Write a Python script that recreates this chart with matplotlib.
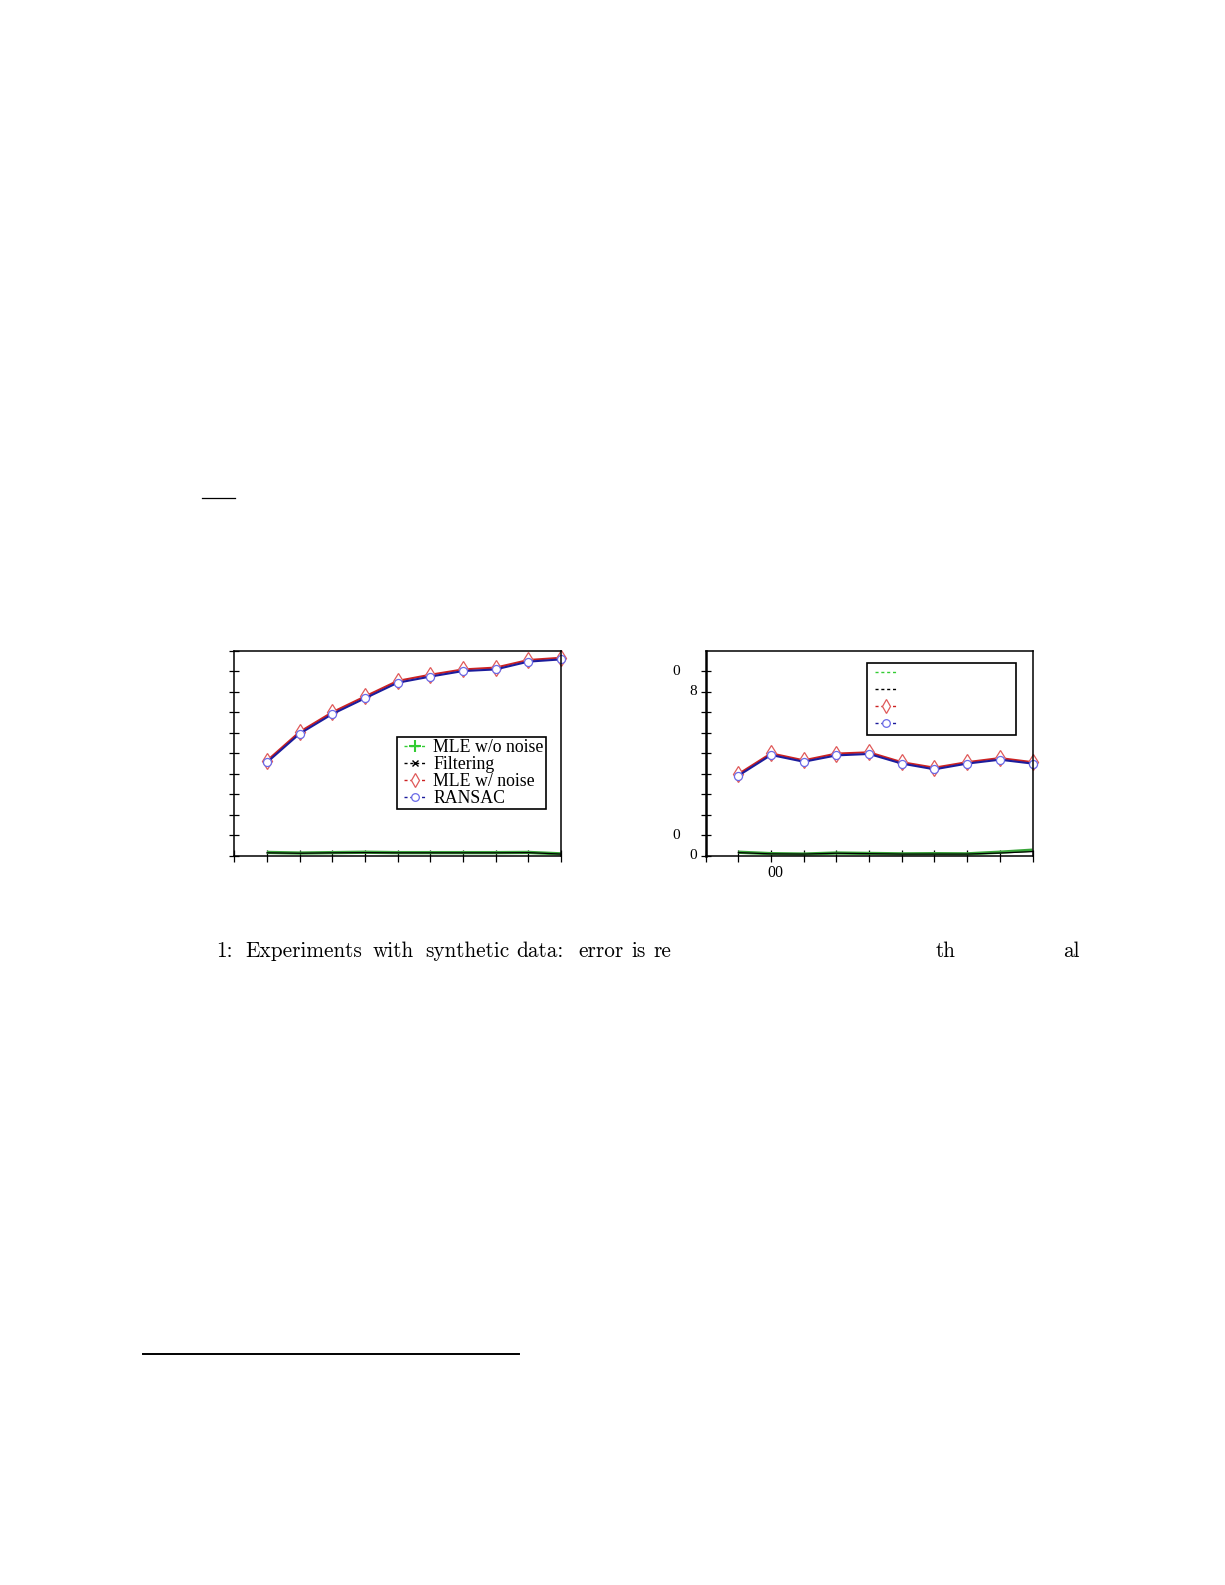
import matplotlib
matplotlib.use("Agg")
import matplotlib.pyplot as plt
from matplotlib.lines import Line2D
from matplotlib.legend_handler import HandlerLine2D

W, H = 1225, 1585

# ---------------- data ----------------
x_vals = [1, 2, 3, 4, 5, 6, 7, 8, 9, 10]
labels = ["MLE w/o noise", "Filtering", "MLE w/ noise", "RANSAC"]

left_mle_wo = [0.16, 0.13, 0.15, 0.17, 0.15, 0.15, 0.15, 0.15, 0.16, 0.09]
left_filter = [0.14, 0.12, 0.14, 0.15, 0.14, 0.14, 0.14, 0.14, 0.15, 0.08]
left_mle_w = [4.64, 6.05, 7.01, 7.78, 8.54, 8.84, 9.10, 9.19, 9.56, 9.67]
left_ransac = [4.56, 5.96, 6.92, 7.69, 8.45, 8.75, 9.02, 9.10, 9.48, 9.59]

right_mle_wo = [0.17, 0.10, 0.08, 0.13, 0.11, 0.09, 0.10, 0.09, 0.17, 0.27]
right_filter = [0.15, 0.09, 0.08, 0.12, 0.10, 0.08, 0.08, 0.08, 0.13, 0.20]
right_mle_w = [3.99, 5.00, 4.66, 4.99, 5.05, 4.57, 4.30, 4.57, 4.77, 4.57]
right_ransac = [3.91, 4.92, 4.59, 4.90, 4.97, 4.50, 4.22, 4.50, 4.69, 4.50]

# visible fragments of the (partially rendered) tick labels
right_ytick_text = [(0, "0", 697), (1, "0", 680), (8, "8", 697), (9, "0", 680)]
right_xtick_text = [(2, "00")]

caption_words = [("1:", 216), ("Experiments", 245), ("with", 373), ("synthetic", 425),
                 ("data:", 516), ("error", 578.5), ("is", 631.5), ("re", 653),
                 ("th", 935.7), ("al", 1062.7)]

# ---------------- style ----------------
GREEN = "#3aa63a"
GREEN_L = "#33cc33"
RED = "#cc2222"
RED_M = "#e05a5a"
BLUE = "#1c1c9c"
BLUE_M = "#6a6ae8"
SERIF = ["Liberation Serif", "DejaVu Serif"]

fig = plt.figure(figsize=(W / 100, H / 100), dpi=100)


def fx(px):
    return px / W


def fy(py):
    return 1 - py / H


def make_axes(x0, x1, y0, y1):
    return fig.add_axes([fx(x0), fy(y1), fx(x1) - fx(x0), fy(y0) - fy(y1)])


axL = make_axes(234.3, 561.0, 651.0, 855.7)
axR = make_axes(705.7, 1032.5, 651.0, 855.7)


def style_axes(ax, yticks, left_lw):
    ax.set_xlim(0, 10)
    ax.set_ylim(0, 10)
    ax.set_xticks(range(0, 11))
    ax.set_yticks(yticks)
    ax.tick_params(axis="x", direction="inout", length=8.6, width=0.9,
                   labelbottom=False, top=False)
    ax.tick_params(axis="y", direction="inout", length=6.5, width=0.9,
                   labelleft=False, right=False)
    for s in ax.spines.values():
        s.set_linewidth(1.1)
        s.set_color("black")
    ax.spines["left"].set_linewidth(left_lw)


def draw_series(ax, g, k, r, b):
    ax.plot(x_vals, g, color=GREEN, lw=2.4, solid_capstyle="butt", clip_on=False)
    ax.plot(x_vals, k, color="black", lw=0.9, clip_on=False)
    ax.plot(x_vals, r, color=RED, lw=1.5, marker="d", ms=7.8,
            mfc="white", mec=RED_M, mew=0.9, clip_on=False)
    ax.plot(x_vals, b, color=BLUE, lw=1.5, marker="o", ms=5.8,
            mfc="white", mec=BLUE_M, mew=0.9, clip_on=False)


style_axes(axL, range(0, 11), 1.1)
style_axes(axR, range(0, 10), 1.8)
draw_series(axL, left_mle_wo, left_filter, left_mle_w, left_ransac)
draw_series(axR, right_mle_wo, right_filter, right_mle_w, right_ransac)

dash = (0, (2.2, 2.0))
handles_L = [
    Line2D([], [], color=GREEN_L, ls=dash, lw=1.0, marker="+", ms=8, mew=1.5, mec=GREEN_L),
    Line2D([], [], color="black", ls=dash, lw=1.0, marker="x", ms=4.5, mew=1.0),
    Line2D([], [], color=RED, ls=dash, lw=1.0, marker="d", ms=7, mfc="white", mec=RED_M, mew=0.9),
    Line2D([], [], color=BLUE, ls=dash, lw=1.0, marker="o", ms=5.5, mfc="white", mec=BLUE_M, mew=0.9),
]
handles_R = [
    Line2D([], [], color=GREEN_L, ls=dash, lw=1.0),
    Line2D([], [], color="black", ls=dash, lw=1.0),
    Line2D([], [], color=RED, ls=dash, lw=1.0, marker="d", ms=7, mfc="white", mec=RED_M, mew=0.9),
    Line2D([], [], color=BLUE, ls=dash, lw=1.0, marker="o", ms=5.5, mfc="white", mec=BLUE_M, mew=0.9),
]


def add_legend(ax, handles, left_px, top_px, hide_text):
    leg = ax.legend(handles, labels, loc="upper left",
                    bbox_to_anchor=(fx(left_px), fy(top_px)),
                    bbox_transform=fig.transFigure, borderaxespad=0,
                    prop={"family": SERIF, "size": 12.8},
                    handler_map={Line2D: HandlerLine2D(xpad=0.31)},
                    handlelength=1.6, handletextpad=0.365, borderpad=0.1,
                    labelspacing=0.0, fancybox=False, framealpha=1,
                    edgecolor="black")
    leg.get_frame().set_linewidth(1.2)
    if hide_text:
        for t in leg.get_texts():
            t.set_alpha(0)
    return leg


add_legend(axL, handles_L, 396.7, 737.3, False)
add_legend(axR, handles_R, 867.3, 663.3, True)

# tick-label fragments on the right panel
for val, txt, xr in right_ytick_text:
    yy = fy(855.7 - val * 20.47)
    fig.text(fx(xr), yy, txt, ha="right", va="center", family=SERIF, fontsize=11)
for val, txt in right_xtick_text:
    fig.text(fx(705.7 + val * 32.68 + 4), fy(873), txt, ha="center", va="center",
             family=SERIF, fontsize=11.5)

# caption fragments
for w, xpx in caption_words:
    fig.text(fx(xpx), fy(957.3), w, ha="left", va="baseline",
             family="cmr10", fontsize=15.3)

# page rules
fig.add_artist(Line2D([fx(202), fx(235)], [fy(498.3), fy(498.3)], color="black", lw=0.9))
fig.add_artist(Line2D([fx(143), fx(519)], [fy(1354), fy(1354)], color="black", lw=1.4))

fig.savefig("out.png", dpi=100, facecolor="white")
